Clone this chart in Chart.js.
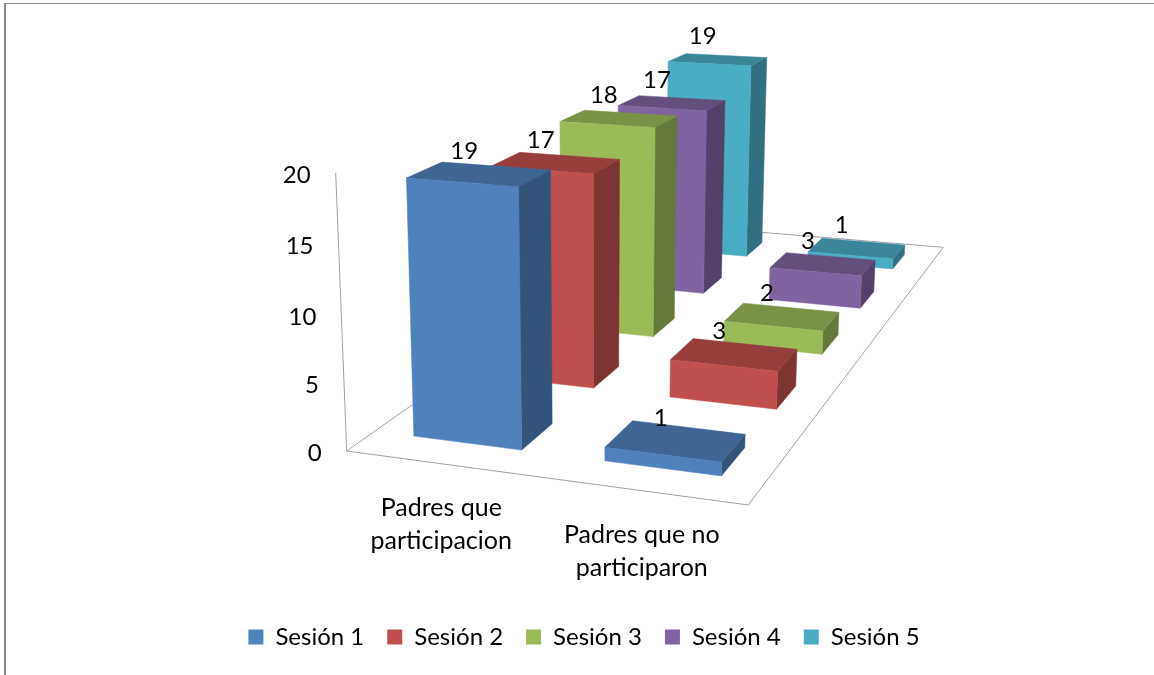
<!DOCTYPE html>
<html>
<head>
<meta charset="utf-8">
<title>Sesiones</title>
<script src="https://cdn.jsdelivr.net/npm/chart.js@4/dist/chart.umd.min.js"></script>
<style>
  html, body { margin: 0; padding: 0; background: #fff; overflow: hidden; }
  #wrap { position: relative; width: 1154px; height: 675px; }
  #frame { position: absolute; left: 4px; top: 3px; right: 0; bottom: 0; border-left: 2px solid #868686; border-top: 1px solid #868686; pointer-events: none; }
</style>
</head>
<body>
<div id="wrap">
  <canvas id="chart" width="1154" height="675"></canvas>
  <div id="frame"></div>
</div>
<script>
const categories = [["Padres que", "participacion"], ["Padres que no", "participaron"]];
const seriesNames = ["Sesión 1", "Sesión 2", "Sesión 3", "Sesión 4", "Sesión 5"];
const sesion1 = [19, 1];
const sesion2 = [17, 3];
const sesion3 = [18, 2];
const sesion4 = [17, 3];
const sesion5 = [19, 1];
const yTickLabels = [0, 5, 10, 15, 20];
const colors = ["#4F81BD", "#C0504D", "#9BBB59", "#8064A2", "#4BACC6"];
const allSeries = [sesion1, sesion2, sesion3, sesion4, sesion5];

// floor of the 3d box on screen, and where verticals converge
const floor = [[346.7, 451], [748.3, 505], [943.3, 247.3], [668, 224.6]];
const vanish = [593, 6678];
const wallTopX = 335.7;
const depthShare = 0.4;
const labelFont = "24px Lato";
const categoryFont = "25px Lato";

function makeCamera() {
  const [p0, p1, p2, p3] = floor;
  const dx1 = p1[0] - p2[0], dx2 = p3[0] - p2[0], sx = p0[0] - p1[0] + p2[0] - p3[0];
  const dy1 = p1[1] - p2[1], dy2 = p3[1] - p2[1], sy = p0[1] - p1[1] + p2[1] - p3[1];
  const det = dx1 * dy2 - dx2 * dy1;
  const g = (sx * dy2 - dx2 * sy) / det;
  const h = (dx1 * sy - sx * dy1) / det;
  const a = p1[0] - p0[0] + g * p1[0], b = p3[0] - p0[0] + h * p3[0], c = p0[0];
  const d = p1[1] - p0[1] + g * p1[1], e = p3[1] - p0[1] + h * p3[1], f = p0[1];
  const k = (wallTopX - c) / (vanish[0] - wallTopX);
  return function (u, v, t) {
    const w = g * u + h * v + 1 + t * k;
    return [(a * u + b * v + c + t * k * vanish[0]) / w, (d * u + e * v + f + t * k * vanish[1]) / w];
  };
}
const project = makeCamera();

function shade(hex, f) {
  const n = parseInt(hex.slice(1), 16);
  const r = Math.round((n >> 16) * f), g = Math.round(((n >> 8) & 255) * f), b = Math.round((n & 255) * f);
  return `rgb(${r},${g},${b})`;
}

function face(ctx, pts, color) {
  ctx.beginPath();
  pts.forEach((p, i) => (i ? ctx.lineTo(p[0], p[1]) : ctx.moveTo(p[0], p[1])));
  ctx.closePath();
  ctx.fillStyle = color;
  ctx.strokeStyle = color;
  ctx.lineWidth = 0.5;
  ctx.fill();
  ctx.stroke();
}

// turn a bar element into its position inside the unit box
function barBox(chart, el, dsIndex) {
  const area = chart.chartArea, y = chart.scales.y;
  const slot = 1 / allSeries.length;
  const vMid = (dsIndex + 0.5) * slot;
  return {
    u0: (el.x - el.width / 2 - area.left) / area.width,
    u1: (el.x + el.width / 2 - area.left) / area.width,
    uMid: (el.x - area.left) / area.width,
    v0: vMid - slot * depthShare / 2,
    v1: vMid + slot * depthShare / 2,
    vMid: vMid,
    t: (y.getPixelForValue(0) - el.y) / (y.getPixelForValue(0) - y.getPixelForValue(20))
  };
}

const box3d = {
  id: "box3d",
  beforeDatasetsDraw(chart) {
    const ctx = chart.ctx;
    ctx.save();
    ctx.strokeStyle = "#a0a0a0";
    ctx.lineWidth = 1;
    ctx.beginPath();
    const top = project(0, 0, 1);
    ctx.moveTo(top[0], top[1]);
    ctx.lineTo(floor[0][0], floor[0][1]);
    ctx.lineTo(floor[1][0], floor[1][1]);
    ctx.lineTo(floor[2][0], floor[2][1]);
    ctx.lineTo(floor[3][0], floor[3][1]);
    ctx.lineTo(floor[0][0], floor[0][1]);
    ctx.stroke();
    ctx.restore();
  },
  beforeDatasetDraw() {
    return false; // the flat bars are replaced below
  },
  afterDatasetsDraw(chart) {
    const ctx = chart.ctx;
    const y = chart.scales.y, x = chart.scales.x;
    ctx.save();
    for (let i = allSeries.length - 1; i >= 0; i--) {
      const color = colors[i];
      chart.getDatasetMeta(i).data.forEach((el) => {
        const b = barBox(chart, el, i);
        face(ctx, [project(b.u1, b.v0, 0), project(b.u1, b.v1, 0), project(b.u1, b.v1, b.t), project(b.u1, b.v0, b.t)], shade(color, 0.65));
        face(ctx, [project(b.u0, b.v0, b.t), project(b.u1, b.v0, b.t), project(b.u1, b.v1, b.t), project(b.u0, b.v1, b.t)], shade(color, 0.78));
        face(ctx, [project(b.u0, b.v0, 0), project(b.u1, b.v0, 0), project(b.u1, b.v0, b.t), project(b.u0, b.v0, b.t)], color);
      });
    }
    ctx.font = labelFont;
    ctx.fillStyle = "#000";
    ctx.textAlign = "center";
    ctx.textBaseline = "middle";
    allSeries.forEach((values, i) => {
      chart.getDatasetMeta(i).data.forEach((el, j) => {
        const b = barBox(chart, el, i);
        const p = project(b.uMid, b.vMid, b.t);
        ctx.fillText(values[j], p[0] - 15, p[1] - 23);
      });
    });
    // value axis labels follow the slanted wall edge
    ctx.textAlign = "right";
    yTickLabels.forEach((tick) => {
      const t = (y.getPixelForValue(0) - y.getPixelForValue(tick)) / (y.getPixelForValue(0) - y.getPixelForValue(20));
      const p = project(0, 0, t);
      ctx.fillText(tick, p[0] - 25, p[1] + 2);
    });
    // category labels sit under the front edge
    ctx.font = categoryFont;
    ctx.textAlign = "center";
    categories.forEach((lines, j) => {
      const u = (x.getPixelForValue(j) - chart.chartArea.left) / chart.chartArea.width;
      const p = project(u, 0, 0);
      lines.forEach((line, n) => ctx.fillText(line, p[0], p[1] + 44 + n * 33));
    });
    ctx.restore();
  }
};

new Chart(document.getElementById("chart").getContext("2d"), {
  type: "bar",
  plugins: [box3d],
  data: {
    labels: categories,
    datasets: seriesNames.map((name, i) => ({
      label: name,
      data: allSeries[i],
      backgroundColor: colors[i],
      borderWidth: 0,
      grouped: false,
      barPercentage: 0.574,
      categoryPercentage: 1
    }))
  },
  options: {
    responsive: false,
    animation: false,
    layout: { padding: { left: 14, bottom: 16 } },
    scales: {
      x: { display: false },
      y: { display: false, min: 0, max: 20, ticks: { stepSize: 5 } }
    },
    plugins: {
      tooltip: { enabled: false },
      legend: {
        position: "bottom",
        labels: {
          boxWidth: 15,
          boxHeight: 15,
          padding: 23,
          color: "#000",
          font: { family: "Lato", size: 24 }
        }
      }
    }
  }
});
</script>
</body>
</html>
